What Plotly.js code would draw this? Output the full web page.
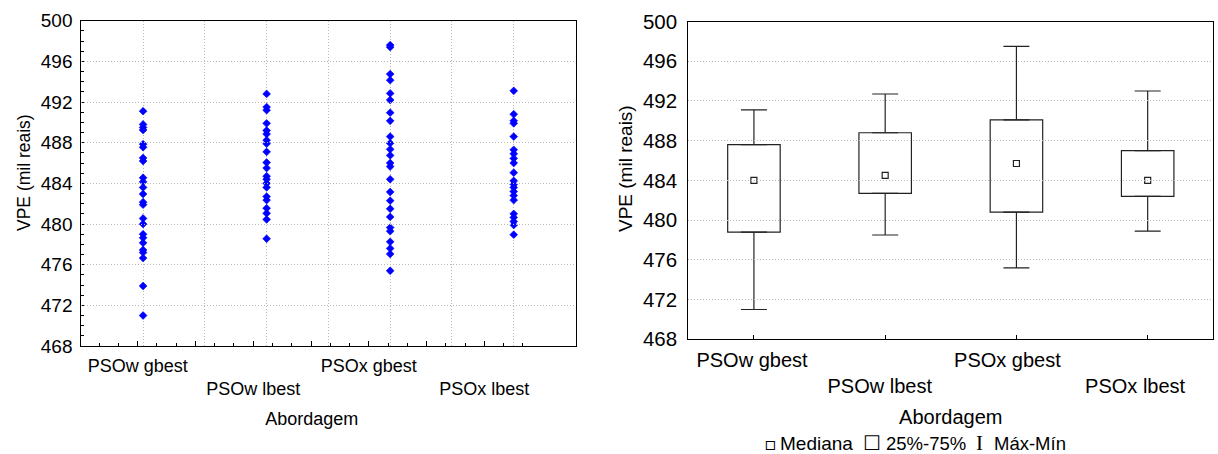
<!DOCTYPE html>
<html>
<head>
<meta charset="utf-8">
<script src="https://cdn.plot.ly/plotly-3.0.1.min.js"></script>
<style>html,body{margin:0;padding:0;background:#fff;}#chart{width:1218px;height:454px;}</style>
</head>
<body>
<div id="chart"></div>
<script>
// ---- data ----
const categories = ['PSOw gbest', 'PSOw lbest', 'PSOx gbest', 'PSOx lbest'];

const psowGbest = [491.1, 489.8, 489.5, 489.25, 487.85, 487.55, 486.5, 486.2, 484.55, 484.15,
  483.6, 482.95, 482.15, 481.9, 480.55, 480.0, 479.0, 478.65, 478.15, 477.45, 477.2, 476.65, 473.9, 471.0];
const psowLbest = [492.8, 491.5, 491.2, 489.9, 489.2, 488.85, 488.25, 487.9, 487.1, 486.05,
  485.5, 484.7, 484.4, 484.0, 483.6, 482.7, 482.35, 481.55, 481.05, 480.45, 478.55];
const psoxGbest = [497.6, 497.4, 494.75, 494.15, 492.85, 492.2, 490.95, 490.15, 488.6, 487.95,
  487.35, 486.75, 486.0, 485.65, 484.4, 483.15, 482.3, 481.5, 480.7, 479.65, 479.3, 478.25,
  477.6, 477.05, 475.4];
const psoxLbest = [493.1, 490.8, 490.15, 489.9, 488.6, 487.3, 486.9, 486.45, 486.0, 485.05,
  484.25, 483.9, 483.6, 483.2, 482.8, 482.35, 481.0, 480.65, 480.25, 479.9, 478.95];

const boxMin    = [471.0, 478.5, 475.2, 478.9];
const boxQ1     = [478.8, 482.7, 480.8, 482.4];
const boxMedian = [484.0, 484.5, 485.7, 484.0];
const boxQ3     = [487.6, 488.8, 490.1, 487.0];
const boxMax    = [491.1, 492.7, 497.5, 493.0];

const yTicks = [468, 472, 476, 480, 484, 488, 492, 496, 500];
const legendLabels = ['Mediana', '25%-75%', 'Máx-Mín'];

// ---- geometry helpers ----
const W = 1218, H = 454;
const px = v => v / W;
const py = v => 1 - v / H;
const FONT = 'Liberation Sans, Arial, sans-serif';
const INK = '#222';
const GRID = '#b8b8b8';
const DASH = '1px,2px';

const series = [psowGbest, psowLbest, psoxGbest, psoxLbest];
const idx = categories.map((c, i) => i);
const stagger = categories.map((c, i) => (i % 2 ? '<br>' + c : c));

const scatterX = [], scatterY = [];
series.forEach((arr, i) => arr.forEach(v => { scatterX.push(i); scatterY.push(v); }));

const traces = [
  {
    type: 'scatter', mode: 'markers', x: scatterX, y: scatterY,
    xaxis: 'x', yaxis: 'y',
    marker: { symbol: 'diamond', size: 6, color: '#0000ff', line: { width: 0.6, color: '#0000ff' } },
    hoverinfo: 'y'
  },
  {
    type: 'bar', x: idx, base: boxQ1, y: boxQ3.map((q, i) => q - boxQ1[i]),
    xaxis: 'x2', yaxis: 'y2', width: 0.4,
    marker: { color: '#ffffff', line: { color: INK, width: 1.2 } },
    hoverinfo: 'skip'
  },
  {
    type: 'scatter', mode: 'markers', x: idx, y: boxQ3, xaxis: 'x2', yaxis: 'y2',
    marker: { size: 1, color: 'rgba(0,0,0,0)' },
    error_y: { type: 'data', symmetric: false, array: boxMax.map((m, i) => m - boxQ3[i]),
      arrayminus: idx.map(() => 0), width: 13, thickness: 1.2, color: INK },
    hoverinfo: 'skip'
  },
  {
    type: 'scatter', mode: 'markers', x: idx, y: boxQ1, xaxis: 'x2', yaxis: 'y2',
    marker: { size: 1, color: 'rgba(0,0,0,0)' },
    error_y: { type: 'data', symmetric: false, array: idx.map(() => 0),
      arrayminus: boxQ1.map((q, i) => q - boxMin[i]), width: 13, thickness: 1.2, color: INK },
    hoverinfo: 'skip'
  },
  {
    type: 'scatter', mode: 'markers', x: idx, y: boxMedian, xaxis: 'x2', yaxis: 'y2',
    marker: { symbol: 'square-open', size: 6, color: INK, line: { width: 1.2, color: INK } },
    hoverinfo: 'y'
  },
  // invisible carriers so the category-label axes get drawn
  {
    type: 'scatter', mode: 'markers', x: idx, y: boxMedian, xaxis: 'x3', yaxis: 'y',
    marker: { size: 1, color: 'rgba(0,0,0,0)' }, hoverinfo: 'skip'
  },
  {
    type: 'scatter', mode: 'markers', x: idx, y: boxMedian, xaxis: 'x4', yaxis: 'y2',
    marker: { size: 1, color: 'rgba(0,0,0,0)' }, hoverinfo: 'skip'
  }
];

const lx0 = 81.3, lx1 = 575.5, lyTop = 20.7, lyBot = 346;
const rx0 = 688.3, rx1 = 1213.3, ryTop = 21.5, ryBot = 339.3;
const labStepL = 115.55, labFirstL = 137.7;
const labStepR = 127.7, labFirstR = 752;

const legY = py(443);
const annot = (x, text, anchor, size, family) => ({
  xref: 'paper', yref: 'paper', x: px(x), y: legY, text: text, showarrow: false,
  xanchor: anchor, yanchor: 'middle', font: { size: size, family: family || FONT }
});

const layout = {
  width: W, height: H,
  margin: { l: 0, r: 0, t: 0, b: 0 },
  paper_bgcolor: '#ffffff', plot_bgcolor: 'rgba(0,0,0,0)',
  showlegend: false,
  font: { family: FONT, color: '#000', size: 18 },
  xaxis: {
    domain: [px(lx0), px(lx1)], range: [-0.5, 3.5], anchor: 'y',
    tickmode: 'linear', tick0: 0, dtick: 0.5, showticklabels: false, ticks: '',
    showgrid: true, gridcolor: GRID, griddash: DASH, gridwidth: 1,
    showline: true, mirror: true, linecolor: '#000', linewidth: 1, zeroline: false, fixedrange: true
  },
  xaxis3: {
    domain: [px(lx0), px(labFirstL + 3.5 * labStepL)],
    range: [(lx0 - labFirstL) / labStepL, 3.5], anchor: 'y',
    tickmode: 'array',
    tickvals: [0, 0.5, 1, 1.5, 2, 2.5, 3, 3.5],
    ticktext: [stagger[0], '', stagger[1], '', stagger[2], '', stagger[3], ''],
    ticks: 'inside', ticklen: 5, tickcolor: '#000', tickwidth: 1, tickangle: 0,
    minor: { tickmode: 'linear', tick0: 0, dtick: 0.5 / 3, ticks: 'inside', ticklen: 3, tickcolor: '#000', showgrid: false },
    tickfont: { size: 18 }, ticklabelstandoff: 7,
    showgrid: false, showline: false, zeroline: false, fixedrange: true,
    title: { text: 'Abordagem', font: { size: 18 }, standoff: 13 }
  },
  yaxis: {
    domain: [py(lyBot), py(lyTop)], range: [468, 500], anchor: 'x',
    tickmode: 'array', tickvals: yTicks,
    ticks: 'inside', ticklen: 4, tickcolor: '#000',
    minor: { tickmode: 'linear', tick0: 468, dtick: 1, ticks: 'inside', ticklen: 3, tickcolor: '#000', showgrid: false },
    showgrid: true, gridcolor: GRID, griddash: DASH, gridwidth: 1,
    showline: true, mirror: true, linecolor: '#000', linewidth: 1, zeroline: false,
    tickfont: { size: 19 }, ticklabelstandoff: 4, fixedrange: true
  },
  xaxis2: {
    domain: [px(rx0), px(rx1)], range: [-0.5, 3.5], anchor: 'y2',
    tickmode: 'array', tickvals: idx, showticklabels: false,
    ticks: 'inside', ticklen: 4, tickcolor: '#000',
    showgrid: false, showline: true, mirror: true, linecolor: '#000', linewidth: 1,
    zeroline: false, fixedrange: true,
    title: { text: 'Abordagem', font: { size: 20 }, standoff: 70 }
  },
  xaxis4: {
    domain: [px(rx0), px(labFirstR + 3.5 * labStepR)],
    range: [(rx0 - labFirstR) / labStepR, 3.5], anchor: 'y2',
    tickmode: 'array', tickvals: idx, ticktext: stagger, ticks: '', tickangle: 0,
    tickfont: { size: 20 }, ticklabelstandoff: 7,
    showgrid: false, showline: false, zeroline: false, fixedrange: true
  },
  yaxis2: {
    domain: [py(ryBot), py(ryTop)], range: [468, 500], anchor: 'x2',
    tickmode: 'array', tickvals: yTicks, ticks: '',
    showgrid: true, gridcolor: GRID, griddash: DASH, gridwidth: 1,
    showline: true, mirror: true, linecolor: '#000', linewidth: 1, zeroline: false,
    tickfont: { size: 20.5 }, ticklabelstandoff: 6, fixedrange: true
  },
  annotations: [
    { xref: 'paper', yref: 'paper', x: px(24), y: py(173), text: 'VPE (mil reais)', textangle: -90,
      showarrow: false, xanchor: 'center', yanchor: 'middle', font: { size: 17.5 } },
    { xref: 'paper', yref: 'paper', x: px(625), y: py(169), text: 'VPE (mil reais)', textangle: -90,
      showarrow: false, xanchor: 'center', yanchor: 'middle', font: { size: 19 } },
    annot(770, '▫', 'center', 18, 'DejaVu Sans'),
    annot(778, legendLabels[0], 'left', 19),
    annot(872, '☐', 'center', 20, 'DejaVu Sans'),
    annot(884, legendLabels[1], 'left', 18.5),
    annot(979, 'I', 'center', 21, 'Liberation Serif'),
    annot(992, legendLabels[2], 'left', 18.5)
  ]
};

Plotly.newPlot('chart', traces, layout, { displayModeBar: false, staticPlot: true });
</script>
</body>
</html>
